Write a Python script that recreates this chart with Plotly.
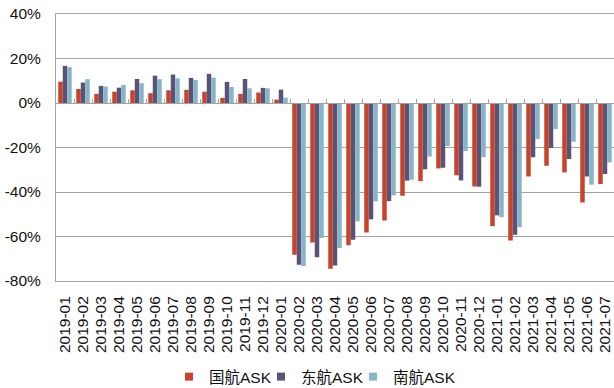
import plotly.graph_objects as go

months = ["2019-01","2019-02","2019-03","2019-04","2019-05","2019-06","2019-07","2019-08",
          "2019-09","2019-10","2019-11","2019-12","2020-01","2020-02","2020-03","2020-04",
          "2020-05","2020-06","2020-07","2020-08","2020-09","2020-10","2020-11","2020-12",
          "2021-01","2021-02","2021-03","2021-04","2021-05","2021-06","2021-07"]

air_china = [9.6, 6.3, 4.1, 5.1, 5.7, 4.4, 5.7, 5.9, 5.1, 2.3, 4.1, 4.7, 1.5,
             -68.2, -62.7, -74.5, -63.9, -58.2, -52.8, -41.7, -35.1, -29.4, -32.5, -37.5,
             -55.3, -61.8, -33.0, -28.2, -31.2, -44.7, -36.4]
china_eastern = [16.7, 9.2, 7.7, 6.9, 10.8, 12.3, 12.8, 11.3, 13.1, 9.5, 10.8, 6.8, 6.0,
                 -72.7, -69.3, -73.0, -61.5, -52.3, -44.1, -34.9, -29.8, -29.1, -34.8, -37.6,
                 -50.5, -59.2, -24.4, -20.2, -25.2, -33.0, -31.9]
china_southern = [16.1, 10.7, 7.4, 8.1, 8.9, 10.7, 11.1, 10.4, 11.4, 7.2, 6.6, 6.6, 2.4,
                  -73.3, -60.7, -65.2, -53.2, -44.2, -41.5, -34.5, -24.1, -19.3, -21.6, -24.3,
                  -51.3, -55.8, -16.2, -11.7, -17.4, -36.7, -26.7]

series_names = ["国航ASK", "东航ASK", "南航ASK"]
series_values = [air_china, china_eastern, china_southern]
colors = ["#C8432A", "#585377", "#87B4C9"]

y_ticks = [-80, -60, -40, -20, 0, 20, 40]
y_tick_labels = ["-80%", "-60%", "-40%", "-20%", "0%", "20%", "40%"]

FONT = "Liberation Sans, Arial, Noto Sans CJK SC, sans-serif"
GRID = "#A3A3A3"

fig = go.Figure()
for name, vals, col in zip(series_names, series_values, colors):
    fig.add_trace(go.Bar(x=months, y=vals, name=name, marker_color=col,
                         marker_line_width=0, showlegend=False))
    # legend proxy with small square marker
    fig.add_trace(go.Scatter(x=[months[0]], y=[None], mode="markers", name=name,
                             marker=dict(symbol="square", size=8, color=col),
                             showlegend=True, hoverinfo="skip"))

# empty spacer entry so the last legend text is not clipped
fig.add_trace(go.Scatter(x=[months[0]], y=[None], mode="markers", name=" ",
                         marker=dict(size=1, color="rgba(0,0,0,0)"),
                         showlegend=True, hoverinfo="skip"))

# invisible trace to host the zero-line axis with upward ticks
fig.add_trace(go.Scatter(x=months, y=[None] * len(months), xaxis="x2", mode="markers",
                         showlegend=False, hoverinfo="skip"))

fig.update_layout(
    width=614, height=388,
    margin=dict(l=56, r=0, t=14, b=107, autoexpand=False),
    paper_bgcolor="white", plot_bgcolor="white",
    barmode="group", bargap=0.25, bargroupgap=0,
    font=dict(family=FONT, size=15.5, color="#111111"),
    showlegend=True,
    legend=dict(orientation="h", x=(169 - 56) / 558, xanchor="left", y=-0.296, yanchor="top",
                font=dict(family=FONT, size=15.5, color="#111111"),
                itemwidth=30, entrywidth=47, tracegroupgap=0),
    xaxis=dict(type="category", categoryorder="array", categoryarray=months,
               range=[-0.5, len(months) - 0.5], tickmode="array", tickvals=months,
               tickangle=-90, ticks="", showgrid=False, showline=True, mirror=True,
               linecolor=GRID, linewidth=1, automargin=False,
               ticklabelstandoff=8, tickfont=dict(family=FONT, size=15.5)),
    xaxis2=dict(type="category", categoryorder="array", categoryarray=months,
                range=[-0.5, len(months) - 0.5], overlaying="x", anchor="free",
                position=80 / 120, side="bottom", showticklabels=False,
                ticks="inside", tickson="boundaries", ticklen=4, tickcolor=GRID,
                tickwidth=1, showline=True, linecolor=GRID, linewidth=1, showgrid=False),
    yaxis=dict(range=[-80, 40], tickvals=y_ticks, ticktext=y_tick_labels,
               showgrid=True, gridcolor=GRID, gridwidth=1, zeroline=False,
               showline=True, linecolor=GRID, linewidth=1, ticks="", automargin=False,
               ticklabelstandoff=11, tickfont=dict(family=FONT, size=15.5)),
)

fig.write_html("out.html")
